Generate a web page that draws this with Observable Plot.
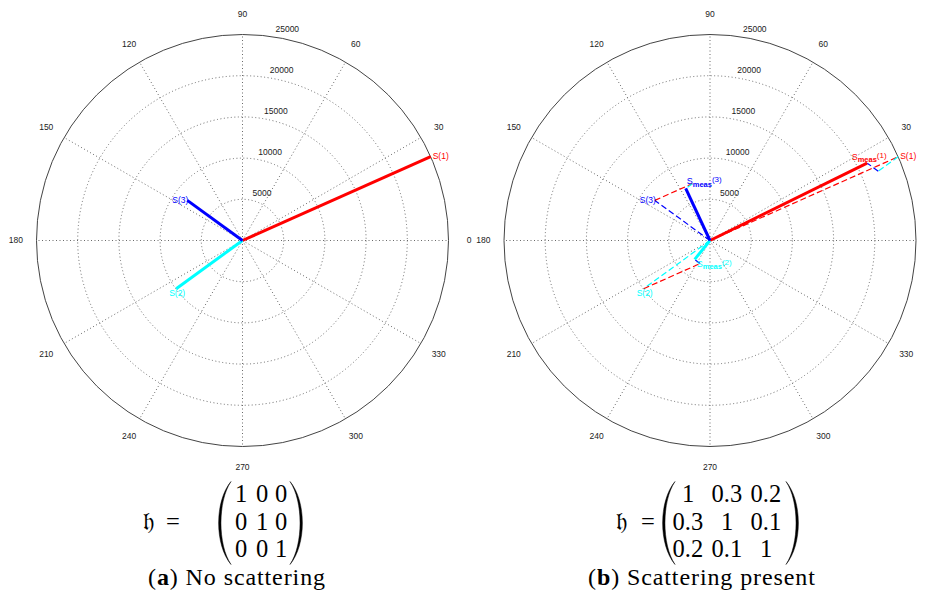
<!DOCTYPE html>
<html><head><meta charset="utf-8">
<script src="https://cdn.jsdelivr.net/npm/d3@7"></script>
<script src="https://cdn.jsdelivr.net/npm/@observablehq/plot@0.6"></script>
<style>
body{margin:0;background:#fff;}
#wrap{position:relative;width:933px;height:600px;overflow:hidden;background:#fff;}
.panel{position:absolute;top:0;}
.m{position:absolute;font-family:"Liberation Serif","DejaVu Serif",serif;color:#000;font-size:24.5px;white-space:nowrap;line-height:20px;}
.frak{font-family:"DejaVu Sans","DejaVu Serif","Noto Sans",serif;font-size:25px;}
.cap{line-height:18px;font-size:24px;letter-spacing:0.9px;}
</style></head><body><div id="wrap"></div>
<script>
// ---------------- data ----------------
const vectorNames = ["S(1)", "S(2)", "S(3)"];
const vectorColors = ["#ff0000", "#00ffff", "#0000ff"];
const sMagnitude = [25000, 9950, 8280];
const sAngleDeg = [24, 216, 144];
const measNames = ["S_meas(1)", "S_meas(2)", "S_meas(3)"];
const measMagnitude = [21250, 2950, 6980];
const measAngleDeg = [26.2, 231, 115];
const hNoScattering = [[1, 0, 0], [0, 1, 0], [0, 0, 1]];
const hScattering = [[1, 0.3, 0.2], [0.3, 1, 0.1], [0.2, 0.1, 1]];
const ringTicks = [5000, 10000, 15000, 20000, 25000];
const angleTicks = [0, 30, 60, 90, 120, 150, 180, 210, 240, 270, 300, 330];
const panelLetters = ["a", "b"];
const panelCaptions = ["No scattering", "Scattering present"];

// ---------------- layout ----------------
const RMAX = 25000, RPX = 206, CY = 240, PW = 466, PH = 478;
const rad = d => d * Math.PI / 180;
const px = (r, a) => r * Math.cos(rad(a));
const py = (r, a) => r * Math.sin(rad(a));
const FONT = "Liberation Sans, Arial, sans-serif";

const sLabelStyle = [
  {textAnchor: "start", lineAnchor: "middle", dx: 2, dy: 0},
  {textAnchor: "middle", lineAnchor: "top", dx: 1, dy: 1},
  {textAnchor: "end", lineAnchor: "middle", dx: 1, dy: 0}
];
const measLabelStyle = [
  {textAnchor: "middle", lineAnchor: "bottom", dx: 2, dy: -3},
  {textAnchor: "start", lineAnchor: "top", dx: 2, dy: 1},
  {textAnchor: "start", lineAnchor: "bottom", dx: 1, dy: -4}
];

function polarPanel(cx, h, scattering, hideZeroLabel) {
  const idx = [0, 1, 2];
  const marks = [];
  marks.push(Plot.dot(ringTicks.filter(r => r < RMAX), {
    x: () => 0, y: () => 0, r: d => d, fill: "none",
    stroke: "#6a6a6a", strokeWidth: 1, strokeDasharray: "1,2.5"
  }));
  marks.push(Plot.dot(ringTicks.filter(r => r === RMAX), {
    x: () => 0, y: () => 0, r: d => d, fill: "none", stroke: "#444", strokeWidth: 1
  }));
  marks.push(Plot.link(angleTicks, {
    x1: () => 0, y1: () => 0, x2: d => px(RMAX, d), y2: d => py(RMAX, d),
    stroke: "#6a6a6a", strokeWidth: 1, strokeDasharray: "1,2.5"
  }));
  marks.push(Plot.text(angleTicks.filter(a => !(hideZeroLabel && a === 0)), {
    x: d => px(1.1 * RMAX, d), y: d => py(1.1 * RMAX, d), text: d => String(d),
    fontSize: 8.5, fill: "#222", fontFamily: FONT
  }));
  marks.push(Plot.text(ringTicks, {
    x: d => px(d + 250, 82), y: d => py(d + 250, 82), text: d => String(d),
    textAnchor: "start", lineAnchor: "bottom", dx: 4, dy: -2,
    fontSize: 8.5, fill: "#222", fontFamily: FONT
  }));

  const tipX = i => px(sMagnitude[i], sAngleDeg[i]);
  const tipY = i => py(sMagnitude[i], sAngleDeg[i]);

  if (!scattering) {
    marks.push(Plot.link(idx, {
      x1: () => 0, y1: () => 0, x2: tipX, y2: tipY,
      stroke: i => vectorColors[i], strokeWidth: 3
    }));
  } else {
    marks.push(Plot.link(idx, {
      x1: () => 0, y1: () => 0, x2: tipX, y2: tipY,
      stroke: i => vectorColors[i], strokeWidth: 1.2, strokeDasharray: "6,3"
    }));
    const segs = [];
    for (const i of idx) {
      let x0 = tipX(i), y0 = tipY(i);
      for (const j of idx) {
        if (j === i) continue;
        const x1 = x0 + h[i][j] * tipX(j), y1 = y0 + h[i][j] * tipY(j);
        segs.push({x0, y0, x1, y1, c: vectorColors[j]});
        x0 = x1; y0 = y1;
      }
    }
    marks.push(Plot.link(segs, {
      x1: "x0", y1: "y0", x2: "x1", y2: "y1", stroke: "c",
      strokeWidth: 1.2, strokeDasharray: "6,3"
    }));
    marks.push(Plot.link(idx, {
      x1: () => 0, y1: () => 0,
      x2: i => px(measMagnitude[i], measAngleDeg[i]), y2: i => py(measMagnitude[i], measAngleDeg[i]),
      stroke: i => vectorColors[i], strokeWidth: 3
    }));
    for (const i of idx) {
      marks.push(Plot.text([i], {
        x: k => px(measMagnitude[k], measAngleDeg[k]), y: k => py(measMagnitude[k], measAngleDeg[k]),
        text: k => measNames[k], fill: vectorColors[i],
        fontSize: 9, fontFamily: FONT, ...measLabelStyle[i]
      }));
    }
  }
  for (const i of idx) {
    marks.push(Plot.text([i], {
      x: tipX, y: tipY, text: k => vectorNames[k], fill: vectorColors[i],
      fontSize: 8.5, fontFamily: FONT, ...sLabelStyle[i]
    }));
  }

  const svg = Plot.plot({
    width: PW, height: PH, margin: 0,
    style: {background: "transparent", overflow: "visible"},
    x: {axis: null, domain: [-RMAX, RMAX], range: [cx - RPX, cx + RPX]},
    y: {axis: null, domain: [-RMAX, RMAX], range: [CY + RPX, CY - RPX]},
    r: {type: "linear", domain: [0, RMAX], range: [0, RPX]},
    color: {type: "identity"},
    marks
  });
  d3.select(svg).selectAll("text").each(function () {
    const m = this.textContent.match(/^S_meas(\(\d\))$/);
    if (!m) return;
    const t = d3.select(this);
    t.text("");
    t.append("tspan").text("S");
    t.append("tspan").attr("font-size", 7.5).attr("font-weight", "bold").attr("dy", "0.3em").text("meas");
    t.append("tspan").attr("font-size", 8).attr("dy", "-0.55em").text(m[1]);
  });
  return svg;
}

const wrap = document.getElementById("wrap");
const p1 = polarPanel(242, hNoScattering, false, false);
p1.classList.add("panel"); p1.style.left = "0px";
wrap.appendChild(p1);
const p2 = polarPanel(243.5, hScattering, true, true);
p2.classList.add("panel"); p2.style.left = "466px";
wrap.appendChild(p2);

// ---------------- math captions ----------------
function paren(left, top, w, hgt, flip) {
  const s = document.createElementNS("http://www.w3.org/2000/svg", "svg");
  s.setAttribute("width", w); s.setAttribute("height", hgt);
  s.style.position = "absolute"; s.style.left = left + "px"; s.style.top = top + "px";
  const p = document.createElementNS("http://www.w3.org/2000/svg", "path");
  const a = w - 1, H = hgt;
  const d = `M${a},0.5 C-2.5,${H * 0.24} -2.5,${H * 0.76} ${a},${H - 0.5} C0.6,${H * 0.76} 0.6,${H * 0.24} ${a},0.5 Z`;
  p.setAttribute("d", d);
  p.setAttribute("fill", "#000"); p.setAttribute("stroke", "#000"); p.setAttribute("stroke-width", "0.5");
  if (flip) p.setAttribute("transform", `translate(${w},0) scale(-1,1)`);
  s.appendChild(p);
  wrap.appendChild(s);
}
function el(html, left, top, extra) {
  const d = document.createElement("div");
  d.className = "m" + (extra ? " " + extra : "");
  d.innerHTML = html; d.style.left = left + "px"; d.style.top = top + "px";
  wrap.appendChild(d);
  return d;
}
function mathBlock(h, cfg, letter, caption) {
  el("\u{1D525}", cfg.hx, 512, "frak");
  el("=", cfg.ex, 512);
  paren(cfg.lp, 481, 15, 84, false);
  paren(cfg.rp, 481, 15, 84, true);
  const rowC = [494, 522, 549];
  h.forEach((row, r) => row.forEach((v, c) => {
    const d = el(String(v), 0, rowC[r] - 10);
    d.style.left = (cfg.cols[c] - d.offsetWidth / 2) + "px";
  }));
  const cp = el(`(<b>${letter}</b>) ${caption}`, 0, 568, "cap");
  cp.style.left = (cfg.cc - cp.offsetWidth / 2) + "px";
}
mathBlock(hNoScattering, {hx: 143, ex: 166, lp: 217, rp: 289, cols: [241, 262, 281], cc: 237}, panelLetters[0], panelCaptions[0]);
mathBlock(hScattering, {hx: 616, ex: 641, lp: 661, rp: 785, cols: [688, 727, 766], cc: 702}, panelLetters[1], panelCaptions[1]);
</script></body></html>
